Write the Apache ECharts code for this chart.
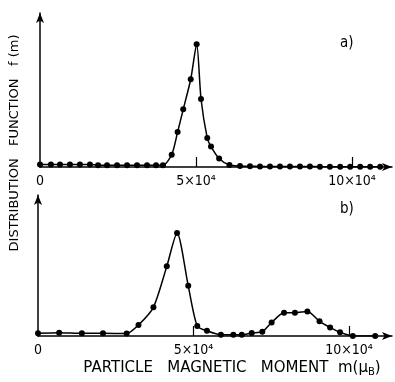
<!DOCTYPE html>
<html>
<head>
<meta charset="utf-8">
<script src="https://cdn.jsdelivr.net/npm/echarts@6/dist/echarts.min.js"></script>
<style>
  html, body { margin: 0; padding: 0; background: #fff; }
  #main { width: 395px; height: 382px; }
</style>
</head>
<body>
<div id="main"></div>
<script>
// moment in units of 10^4 muB, f(m) in arbitrary units (peak of a = 1)
var momentA = [0, 0.35, 0.64, 0.96, 1.28, 1.6, 1.86, 2.15, 2.47, 2.79, 3.11, 3.43, 3.72, 3.94,
               4.22, 4.41, 4.59, 4.83, 5.02, 5.16, 5.36, 5.48, 5.74, 6.07,
               6.41, 6.73, 7.05, 7.37, 7.69, 8.01, 8.33, 8.65, 8.97, 9.29, 9.62, 9.94, 10.26, 10.58, 10.9];
var fA = [0.02, 0.02, 0.02, 0.02, 0.02, 0.02, 0.015, 0.015, 0.015, 0.015, 0.015, 0.015, 0.015, 0.015,
          0.10, 0.285, 0.47, 0.715, 1.0, 0.554, 0.236, 0.167, 0.07, 0.016,
          0.008, 0.006, 0.005, 0.005, 0.005, 0.004, 0.004, 0.004, 0.003, 0.003, 0.003, 0.002, 0.002, 0.002, 0.002];

var momentB = [0, 0.68, 1.41, 2.09, 2.85, 3.23, 3.71, 4.14, 4.47, 4.83, 5.12, 5.43, 5.88,
               6.28, 6.55, 6.87, 7.21, 7.51, 7.91, 8.26, 8.66, 9.05, 9.39, 9.71, 10.12, 10.84];
var fB = [0.022, 0.027, 0.022, 0.022, 0.02, 0.09, 0.234, 0.568, 0.84, 0.409, 0.081, 0.042, 0.01,
          0.01, 0.01, 0.025, 0.035, 0.11, 0.19, 0.19, 0.2, 0.12, 0.07, 0.03, 0.0, 0.0];

var tickValues = [5, 10];
var labelValues = [0, 5, 10];
var tickLabels = ['0', '5×10⁴', '10×10⁴'];
var panelLabels = ['a)', 'b)'];
var yTitle = 'DISTRIBUTION   FUNCTION   f (m)';
var xTitle = 'PARTICLE   MAGNETIC   MOMENT  m(';

var font = "'DejaVu Sans Condensed', 'Liberation Sans Narrow', 'DejaVu Sans', sans-serif";
var titleFont = "'DejaVu Sans', sans-serif";

function toPairs(xs, ys) {
  var out = [];
  for (var i = 0; i < xs.length; i++) out.push([xs[i], ys[i]]);
  return out;
}

function makeX(idx, max) {
  return {
    type: 'value', gridIndex: idx, min: 0, max: max,
    splitLine: { show: false },
    axisLine: { lineStyle: { color: '#000', width: 1.5 }, symbol: ['none', 'arrow'], symbolSize: [6, 10] },
    axisTick: { inside: true, length: 10, lineStyle: { color: '#000', width: 1.2 }, customValues: tickValues },
    axisLabel: {
      color: '#000', fontSize: 14, fontFamily: font, margin: 7,
      customValues: labelValues,
      formatter: function (v) { return tickLabels[labelValues.indexOf(v)] || ''; }
    }
  };
}

function makeY(idx, max) {
  return {
    type: 'value', gridIndex: idx, min: 0, max: max,
    splitLine: { show: false },
    axisLine: { show: true, lineStyle: { color: '#000', width: 1.5 }, symbol: ['none', 'arrow'], symbolSize: [6, 10] },
    axisTick: { show: false },
    axisLabel: { show: false }
  };
}

function makeSeries(idx, data) {
  return {
    type: 'line', xAxisIndex: idx, yAxisIndex: idx,
    data: data, smooth: 0.25,
    symbol: 'circle', symbolSize: 6,
    itemStyle: { color: '#000' },
    lineStyle: { color: '#000', width: 1.5 }
  };
}

var myChart = echarts.init(document.getElementById('main'));
var option = {
  animation: false,
  backgroundColor: '#fff',
  grid: [
    { left: 40, right: 3, top: 13, height: 154 },
    { left: 38, right: 3, top: 195, height: 141 }
  ],
  xAxis: [makeX(0, 11.28), makeX(1, 11.38)],
  yAxis: [makeY(0, 1.255), makeY(1, 1.15)],
  series: [makeSeries(0, toPairs(momentA, fA)), makeSeries(1, toPairs(momentB, fB))],
  graphic: [
    { type: 'text', x: 340, y: 36, style: { text: panelLabels[0], font: '15px ' + font, fill: '#000' } },
    { type: 'text', x: 340, y: 202, style: { text: panelLabels[1], font: '15px ' + font, fill: '#000' } },
    { type: 'text', x: 15, y: 143, rotation: Math.PI / 2,
      style: { text: yTitle, font: '13px ' + titleFont, fill: '#000', align: 'center', verticalAlign: 'middle' } },
    { type: 'text', x: 232, y: 368,
      style: {
        text: '{t|' + xTitle + '}{m|μ}{s|B}{t|)}',
        fill: '#000', align: 'center', verticalAlign: 'middle',
        rich: {
          t: { fontSize: 15, fontFamily: titleFont, fill: '#000' },
          m: { fontSize: 15, fontFamily: titleFont, fill: '#000' },
          s: { fontSize: 10, fontFamily: titleFont, fill: '#000', padding: [8, 0, 0, 0] }
        }
      } }
  ]
};
myChart.setOption(option);
</script>
</body>
</html>
